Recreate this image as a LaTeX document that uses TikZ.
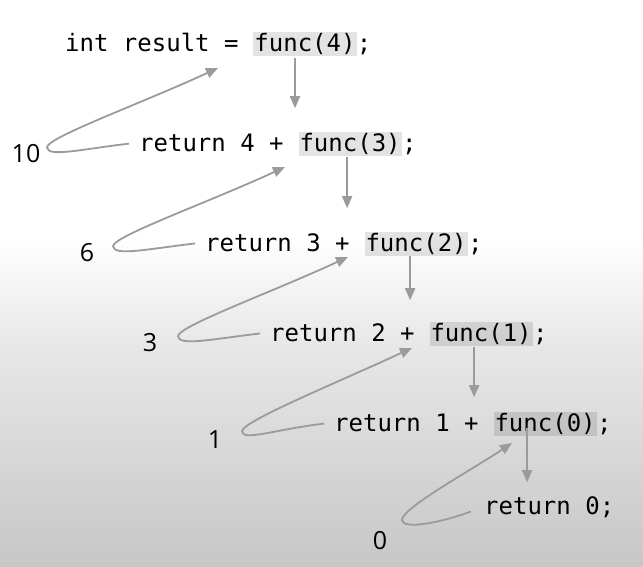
\documentclass[tikz,border=0pt]{standalone}
\usepackage{fontspec}
\setmonofont{DejaVu Sans Mono}
\setsansfont{Open Sans}
\usetikzlibrary{arrows.meta,positioning}
\definecolor{pfeilgrau}{RGB}{155,155,155}

\begin{document}
\begin{tikzpicture}[x=1pt, y=-1pt,
  code/.style={font=\ttfamily\fontsize{24}{28}\selectfont, inner sep=0pt, anchor=base west},
  call/.style={code, fill=black, fill opacity=0.11, text opacity=1, inner xsep=1pt, text height=19pt, text depth=5pt},
  wert/.style={font=\sffamily\fontsize{25}{30}\selectfont, inner sep=0pt},
  down/.style={draw=pfeilgrau, line width=1.8pt, -{Triangle[length=12pt,width=10pt]}},
  back/.style={draw=pfeilgrau, line width=1.8pt, -{Triangle[length=12pt,width=10pt]}}]
  \useasboundingbox (0,0) rectangle (643,566);
  % Hintergrund: oben weiss, nach unten grau
  \fill[white] (0,0) rectangle (643,566);
  \shade[top color=white, bottom color=black!9] (0,235) rectangle (643,340);
  \shade[top color=black!9, bottom color=black!22] (0,340) rectangle (643,566);
  % Aufruf oben
  \node[code] (r0) at (65,51) {int result =~\null};
  \node[call] (f0) at (r0.base east) {func(4)};
  \node[code] (s0) at (f0.base east) {;};
  % rekursive Aufrufe (Zeile/x/Grundlinie/n/n-1)
  \foreach \i/\x/\y/\n/\m in {1/139/151/4/3, 2/205/251/3/2, 3/270/341/2/1, 4/334/431/1/0}{
    \node[code] (r\i) at (\x,\y) {return \n{} +~\null};
    \node[call] (f\i) at (r\i.base east) {func(\m)};
    \node[code] (s\i) at (f\i.base east) {;};
  }
  % Basisfall
  \node[code] (r5) at (484,514) {return 0;};
  % Rueckgabewerte
  \node[wert] (v1) at (26,154) {10};
  \node[wert] (v2) at (87,253) {6};
  \node[wert] (v3) at (150,343) {3};
  \node[wert] (v4) at (215,440) {1};
  \node[wert] (v5) at (380,541) {0};
  % Abstieg: Pfeil unter jedem Aufruf
  \foreach \i/\dx/\dy/\len in {0/-10/-2/50, 1/-3/-1/51, 2/-6/0/44, 3/-7/-1/50, 4/-18/8/54}{
    \draw[down] ([xshift=\dx pt, yshift=\dy pt]f\i.south) -- ++(0,\len);
  }
  % Rueckgabe: Schleife links (p), dann hoch zum Aufrufer (u)
  \foreach \i/\py/\tx/\ty in {1/-5/218/68, 2/-4/285/167, 3/-4/348/257, 4/-9/412/348}{
    \coordinate (p\i) at ([xshift=-92pt, yshift=\py pt]r\i.west);
    \coordinate (u\i) at (\tx,\ty);
    \draw[back, shorten <=10pt] (r\i.west) .. controls +(-59,7) and +(1,10) .. (p\i)
      .. controls +(0,-10) and +(-78,36) .. (u\i);
  }
  \coordinate (p5) at (402,520);
  \coordinate (u5) at (512,443);
  \draw[back, shorten <=14pt] (r5.west) .. controls +(-44,16) and +(1,10) .. (p5)
    .. controls +(0,-12) and +(-42,28) .. (u5);
\end{tikzpicture}
\end{document}
